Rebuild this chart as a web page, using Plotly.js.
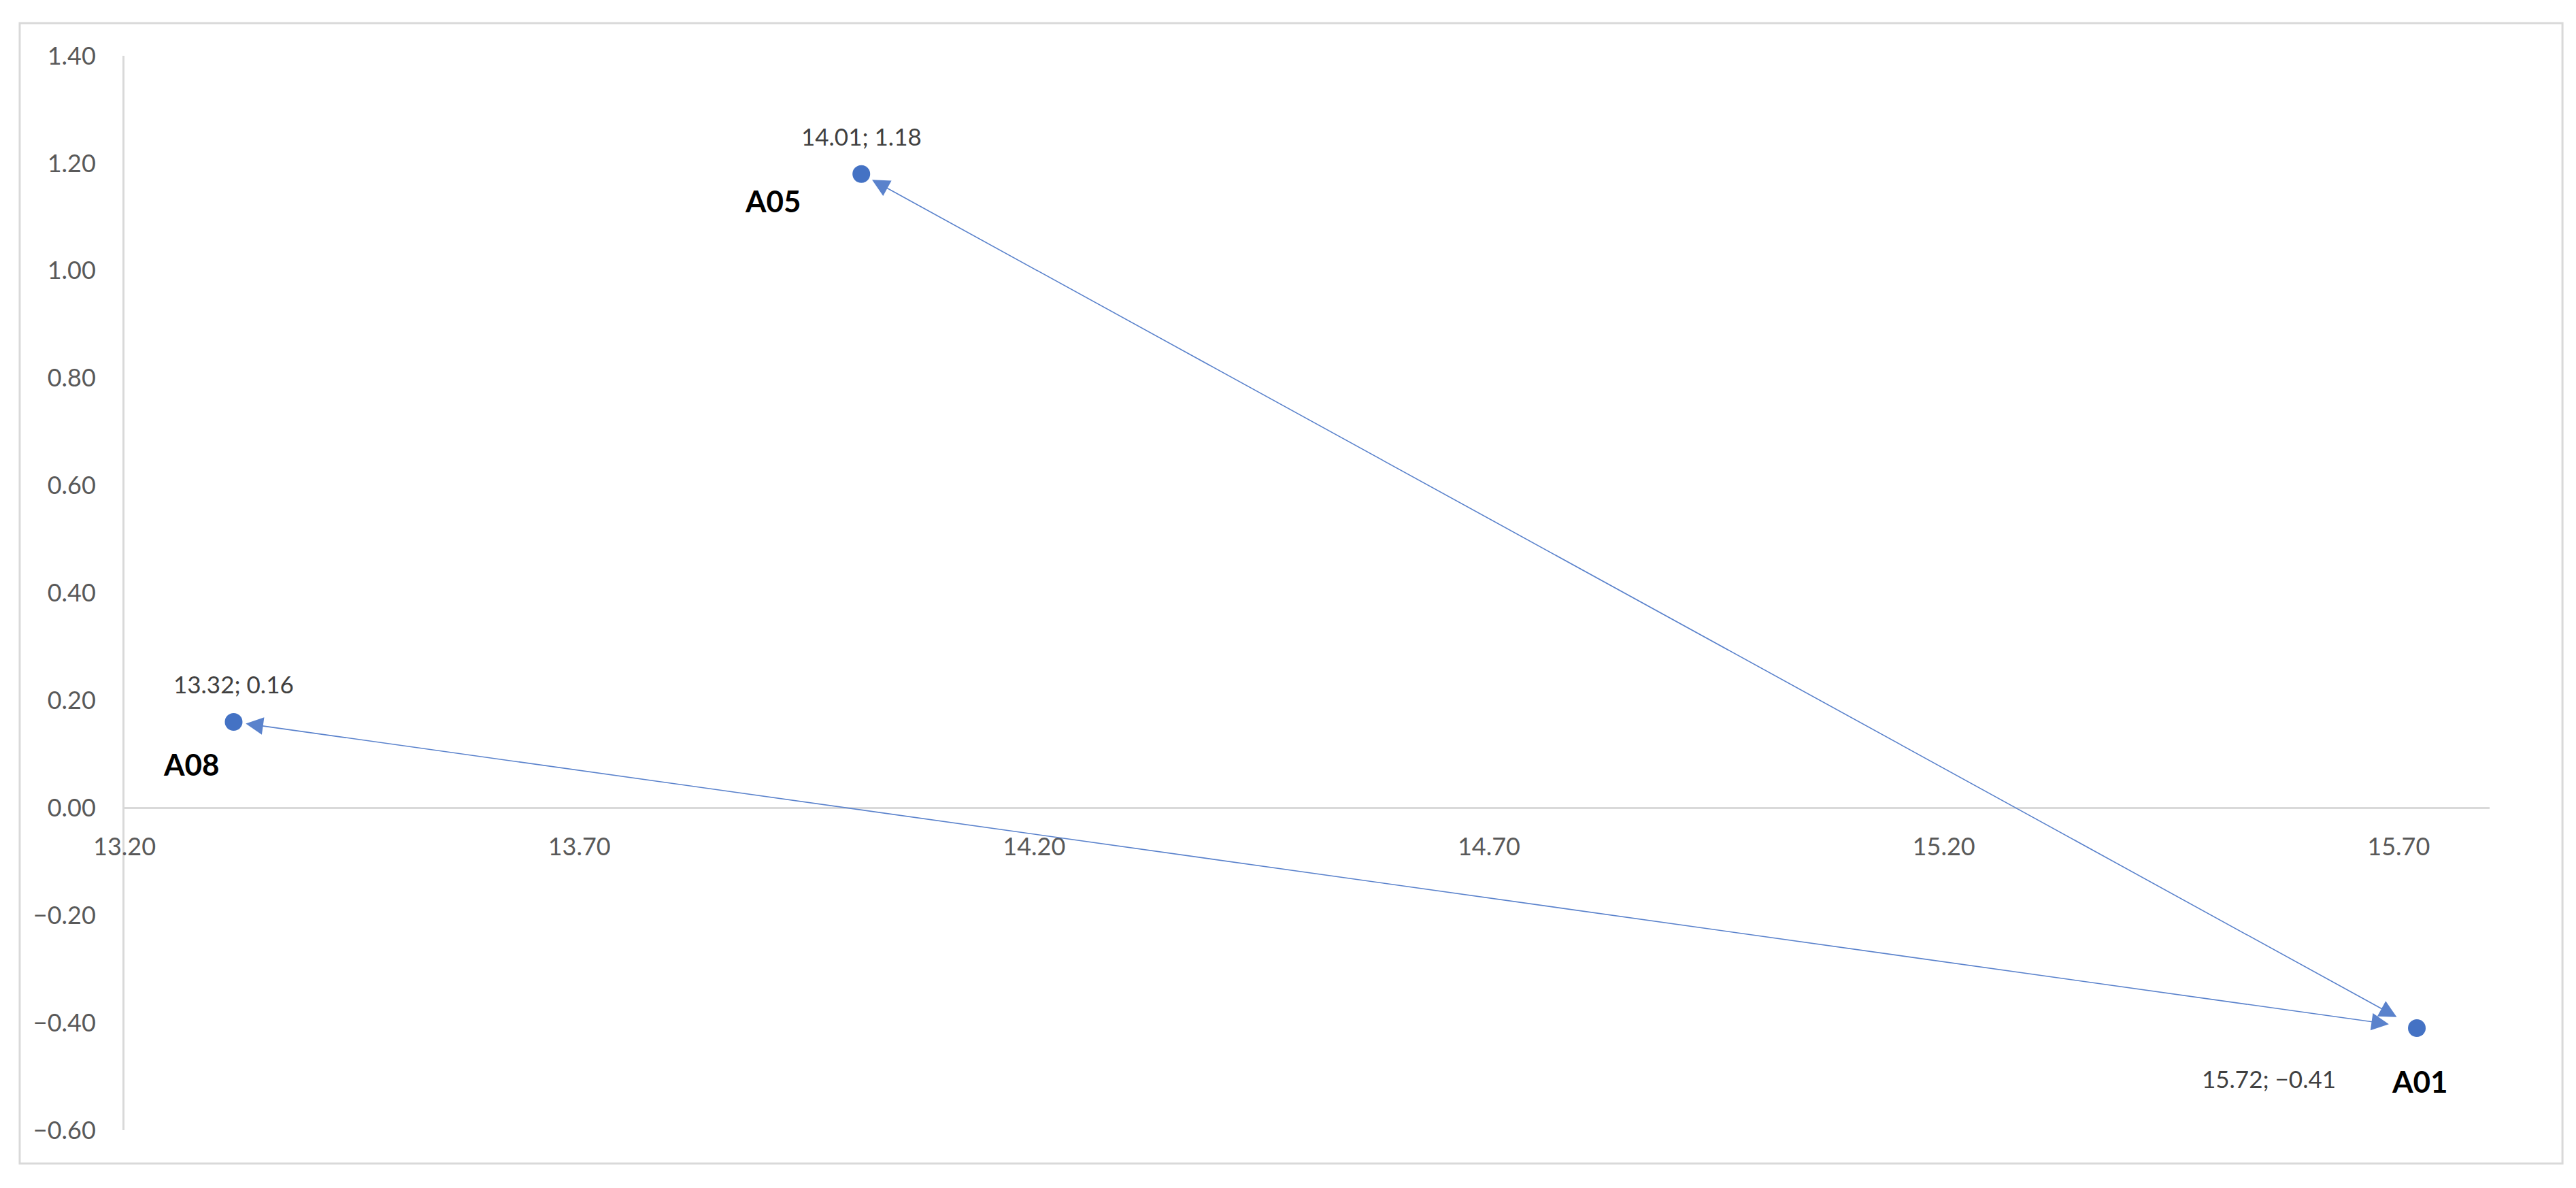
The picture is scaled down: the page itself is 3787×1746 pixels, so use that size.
<!DOCTYPE html>
<html>
<head>
<meta charset="utf-8">
<script src="https://cdn.plot.ly/plotly-3.0.1.min.js"></script>
<style>
  html, body { margin: 0; padding: 0; background: #ffffff; }
  #chart { width: 3787px; height: 1746px; }
</style>
</head>
<body>
<div id="chart"></div>
<script>
// points
const pointNames = ['A05', 'A08', 'A01'];
const xValues = [14.01, 13.32, 15.72];
const yValues = [1.18, 0.16, -0.41];

// arrows: both ends get a head
const linkFrom = ['A05', 'A08'];
const linkTo = ['A01', 'A01'];

const xRange = [13.2, 15.8];
const yRange = [-0.6, 1.4];

const blue = '#4472C4';
const arrowBlue = '#5A82CC';
const font = 'Lato, "Open Sans", sans-serif';

// label placement in px around each dot (value label, then bold name)
const labelShift = {
  A05: { value: [0, 56], name: [-130, -39] },
  A08: { value: [0, 56], name: [-62, -62] },
  A01: { value: [-218, -74], name: [4, -78] }
};
// gap between arrow tip and dot centre, at the far end (A01)
const tailGap = [32, 40];

function fmt(v) {
  let s = Math.abs(v).toFixed(2);
  return (v < 0 ? '\u2212' : '') + s;
}

function indexOf(name) {
  return pointNames.indexOf(name);
}

let trace = {
  x: xValues,
  y: yValues,
  type: 'scatter',
  mode: 'markers',
  marker: { color: blue, size: 26 },
  hoverinfo: 'skip',
  cliponaxis: false
};

let annotations = [];

linkFrom.forEach((from, k) => {
  let a = indexOf(from);
  let b = indexOf(linkTo[k]);
  annotations.push({
    x: xValues[a], y: yValues[a],
    ax: xValues[b], ay: yValues[b],
    xref: 'x', yref: 'y', axref: 'x', ayref: 'y',
    text: '',
    showarrow: true,
    arrowside: 'end+start',
    arrowhead: 2,
    startarrowhead: 2,
    arrowsize: 3.2,
    startarrowsize: 3.2,
    arrowwidth: 1.6,
    arrowcolor: arrowBlue,
    standoff: 18,
    startstandoff: tailGap[k]
  });
});

pointNames.forEach((name, i) => {
  let s = labelShift[name];
  annotations.push({
    x: xValues[i], y: yValues[i], xref: 'x', yref: 'y',
    text: fmt(xValues[i]) + '; ' + fmt(yValues[i]),
    showarrow: false,
    xshift: s.value[0], yshift: s.value[1],
    font: { family: font, size: 35, color: '#404040' }
  });
  annotations.push({
    x: xValues[i], y: yValues[i], xref: 'x', yref: 'y',
    text: '<b>' + name + '</b>',
    showarrow: false,
    xshift: s.name[0], yshift: s.name[1],
    font: { family: font, size: 44, color: '#000000' }
  });
});

let layout = {
  width: 3787,
  height: 1746,
  margin: { l: 183, r: 127, t: 82, b: 85, pad: 0 },
  paper_bgcolor: '#ffffff',
  plot_bgcolor: '#ffffff',
  showlegend: false,
  font: { family: font, size: 36, color: '#595959' },
  xaxis: {
    range: xRange,
    tick0: 13.2,
    dtick: 0.5,
    tickformat: '.2f',
    showgrid: false,
    zeroline: false,
    showline: true,
    linecolor: '#D9D9D9',
    linewidth: 3,
    ticks: '',
    anchor: 'free',
    position: (0 - yRange[0]) / (yRange[1] - yRange[0]),
    ticklabelstandoff: 24,
    tickfont: { family: font, size: 36, color: '#595959' }
  },
  yaxis: {
    range: yRange,
    dtick: 0.2,
    tickformat: '.2f',
    showgrid: false,
    zeroline: false,
    showline: true,
    linecolor: '#D9D9D9',
    linewidth: 3,
    ticks: '',
    ticklabelstandoff: 32,
    tickfont: { family: font, size: 36, color: '#595959' }
  },
  shapes: [{
    type: 'rect', xref: 'paper', yref: 'paper',
    x0: -0.0443, x1: 1.0308, y0: -0.031, y1: 1.0304,
    line: { color: '#D9D9D9', width: 3 },
    fillcolor: 'rgba(0,0,0,0)',
    layer: 'below'
  }],
  annotations: annotations
};

Plotly.newPlot('chart', [trace], layout, { displayModeBar: false, staticPlot: true });
</script>
</body>
</html>
